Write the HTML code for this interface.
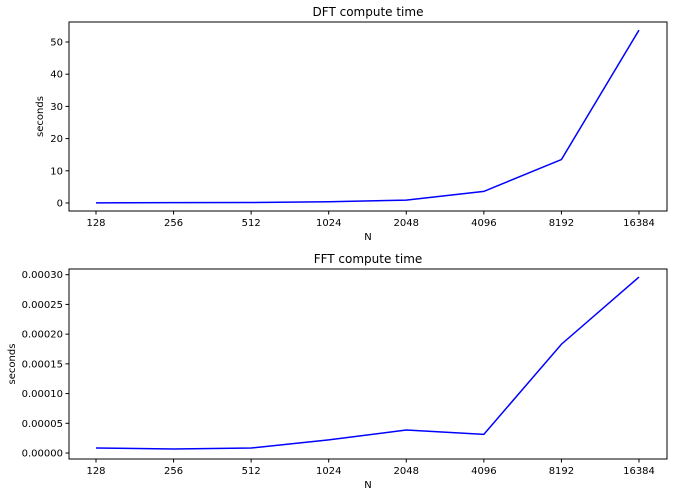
<!DOCTYPE html>
<html><head><meta charset="utf-8"><style>
body{margin:0;background:#fff;}
svg{display:block;font-family:"DejaVu Sans","Liberation Sans",sans-serif;}
</style></head><body>
<svg id="chart" width="676" height="496"></svg>
<script>
const categories = ["128","256","512","1024","2048","4096","8192","16384"];
const dftValues = [0.05, 0.1, 0.15, 0.4, 0.9, 3.6, 13.5, 53.7];
const fftValues = [0.0000084, 0.0000067, 0.0000084, 0.000022, 0.0000387, 0.0000314, 0.000183, 0.000296];
const dftTicks = [0, 10, 20, 30, 40, 50];
const dftTickLabels = ["0","10","20","30","40","50"];
const fftTicks = [0, 0.00005, 0.0001, 0.00015, 0.0002, 0.00025, 0.0003];
const fftTickLabels = ["0.00000","0.00005","0.00010","0.00015","0.00020","0.00025","0.00030"];

const NS = "http://www.w3.org/2000/svg";
const svg = document.getElementById("chart");
function mk(tag, attrs, parent){const e=document.createElementNS(NS,tag);for(const k in attrs)e.setAttribute(k,attrs[k]);(parent||svg).appendChild(e);return e;}

function drawPanel(cfg){
  const g = mk("g",{});
  
  
  const L=69, R=667, T=cfg.top, B=cfg.bottom;
  const xFn = i => 96 + i*(639-96)/(categories.length-1);
  const yFn = v => cfg.y0px + (v - 0)*(cfg.y1px - cfg.y0px)/(cfg.y1val);
  const frame = mk("rect",{x:L,y:T,width:R-L,height:B-T,fill:"none",stroke:"#000","stroke-width":1},g);
  
  
  categories.forEach((c,i)=>{
    const x=xFn(i);
    mk("line",{x1:x,y1:B,x2:x,y2:B+3.5,stroke:"#000"},g);
    const t=mk("text",{x:x,y:B+15,"text-anchor":"middle","font-size":"10"},g);
    t.textContent=c;
    
    
  });
  cfg.ticks.forEach((v,i)=>{
    const y=yFn(v);
    mk("line",{x1:L-3.5,y1:y,x2:L,y2:y,stroke:"#000"},g);
    const t=mk("text",{x:L-6,y:y+3.5,"text-anchor":"end","font-size":"10"},g);
    t.textContent=cfg.tickLabels[i];
    
    
  });
  const pts = cfg.values.map((v,i)=>xFn(i)+","+yFn(v)).join(" ");
  const line = mk("polyline",{points:pts,fill:"none",stroke:"#0000ff","stroke-width":1.5},g);
  
  
  const title = mk("text",{x:(L+R)/2,y:T-6,"text-anchor":"middle","font-size":"12"},g);
  title.textContent = cfg.title;
  
  
  const xl = mk("text",{x:(L+R)/2,y:B+29,"text-anchor":"middle","font-size":"10"},g);
  xl.textContent = "N";
  
  
  const yl = mk("text",{x:0,y:0,"text-anchor":"middle","font-size":"10",transform:"translate("+cfg.ylabelX+","+((T+B)/2)+") rotate(-90)"},g);
  yl.textContent = "seconds";
  
  
}
drawPanel({name:"dft-panel",seriesName:"dft-line",title:"DFT compute time",top:22,bottom:211,y0px:203,y1px:42,y1val:50,ticks:dftTicks,tickLabels:dftTickLabels,values:dftValues,ylabelX:43});
drawPanel({name:"fft-panel",seriesName:"fft-line",title:"FFT compute time",top:269,bottom:459,y0px:453,y1px:274.7,y1val:0.0003,ticks:fftTicks,tickLabels:fftTickLabels,values:fftValues,ylabelX:15});
</script>
</body></html>
